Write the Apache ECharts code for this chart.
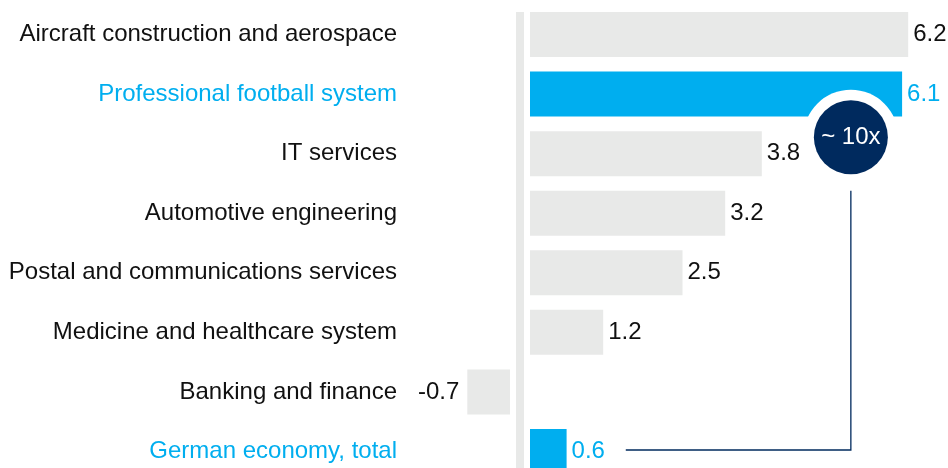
<!DOCTYPE html>
<html>
<head>
<meta charset="utf-8">
<style>
  html, body { margin: 0; padding: 0; background: #ffffff; }
  #chart { width: 948px; height: 468px; }
</style>
<script src="https://cdn.jsdelivr.net/npm/echarts@6/dist/echarts.min.js"></script>
</head>
<body>
<div id="chart"></div>
<script>
// Sectors, top to bottom
const categories = [
  'Aircraft construction and aerospace',
  'Professional football system',
  'IT services',
  'Automotive engineering',
  'Postal and communications services',
  'Medicine and healthcare system',
  'Banking and finance',
  'German economy, total'
];
// Values per sector
const values = [6.2, 6.1, 3.8, 3.2, 2.5, 1.2, -0.7, 0.6];
// Rows drawn in the accent colour
const highlighted = ['Professional football system', 'German economy, total'];
// Badge text comparing football with the whole economy
const ratioLabel = '~ 10x';

const GREY = '#e8e9e8';
const BLUE = '#00aeef';
const NAVY = '#002a5e';
const TEXT = '#111111';
const FONT = '"Liberation Sans", Arial, Helvetica, sans-serif';
const FONT_SIZE = 24;

const isHl = name => highlighted.indexOf(name) !== -1;

const barItem = (v, i) => {
  const hl = isHl(categories[i]);
  return {
    value: v,
    itemStyle: { color: hl ? BLUE : GREY },
    label: { color: hl ? BLUE : TEXT }
  };
};

const positiveData = values.map((v, i) => (v >= 0 ? barItem(v, i) : '-'));
const negativeData = values.map((v, i) => (v < 0 ? barItem(v, i) : '-'));

const labelBase = {
  show: true,
  fontFamily: FONT,
  fontSize: FONT_SIZE,
  formatter: p => Number(p.value).toFixed(1)
};

const chart = echarts.init(document.getElementById('chart'), null, { renderer: 'canvas' });

// Rows run past the lower edge of the canvas
const ROW_H = 59.57;
const PLOT_TOP = 4.7;
const PLOT_H = ROW_H * categories.length;

const option = {
  animation: false,
  backgroundColor: '#ffffff',
  grid: [
    // negative side
    { left: 449, width: 61, top: PLOT_TOP, height: PLOT_H, outerBoundsMode: 'none', containLabel: false },
    // positive side
    { left: 530, width: 396.5, top: PLOT_TOP, height: PLOT_H, outerBoundsMode: 'none', containLabel: false },
    // divider between both sides
    { left: 520, width: 4, top: 12, height: PLOT_H, outerBoundsMode: 'none', containLabel: false }
  ],
  xAxis: [
    { gridIndex: 0, type: 'value', min: -1, max: 0, show: false },
    { gridIndex: 1, type: 'value', min: 0, max: 6.5, show: false },
    { gridIndex: 2, type: 'value', min: 0, max: 1, show: false }
  ],
  yAxis: [
    {
      gridIndex: 0, type: 'category', data: categories, inverse: true,
      axisLine: { show: false }, axisTick: { show: false }, splitLine: { show: false },
      axisLabel: {
        margin: 52,
        fontFamily: FONT,
        fontSize: FONT_SIZE,
        color: v => (isHl(v) ? BLUE : TEXT)
      }
    },
    {
      gridIndex: 1, type: 'category', data: categories, inverse: true,
      axisLine: { show: false }, axisTick: { show: false },
      axisLabel: { show: false }, splitLine: { show: false }
    },
    {
      gridIndex: 2, type: 'category', data: categories, inverse: true,
      axisLine: { show: true, lineStyle: { color: GREY, width: 8, cap: 'butt' } },
      axisTick: { show: false }, axisLabel: { show: false }, splitLine: { show: false }
    }
  ],
  series: [
    {
      type: 'bar', xAxisIndex: 0, yAxisIndex: 0,
      barWidth: 45,
      data: negativeData,
      label: Object.assign({}, labelBase, { position: 'left', distance: 8 })
    },
    {
      type: 'bar', xAxisIndex: 1, yAxisIndex: 1,
      barWidth: 45,
      data: positiveData,
      label: Object.assign({}, labelBase, { position: 'right', distance: 5 })
    }
  ]
};

chart.setOption(option);

// Badge and connector, placed in the positive grid's data space
const badgeX = 5.26;          // value position of the badge centre
const badgeRow = 1.725;       // between the football and IT rows
const connectorStart = 1.57;  // where the connector begins on the total row
const totalRow = categories.length - 1;

const px = (x, row) => chart.convertToPixel({ gridIndex: 1 }, [x, categories[row]]);
const rowA = px(badgeX, Math.floor(badgeRow));
const rowB = px(badgeX, Math.ceil(badgeRow));
const cx = rowA[0];
const cy = rowA[1] + (badgeRow - Math.floor(badgeRow)) * (rowB[1] - rowA[1]);
const totalPt = px(connectorStart, totalRow);
const lineY = totalPt[1] - 1.5;

const r = 37;
const ring = 10.5;

chart.setOption({
  graphic: [
    {
      type: 'polyline',
      shape: { points: [[cx, cy + r + ring + 6], [cx, lineY], [totalPt[0], lineY]] },
      style: { stroke: NAVY, lineWidth: 1.3, fill: null },
      z: 10
    },
    {
      type: 'circle',
      shape: { cx: cx, cy: cy, r: r + ring },
      style: { fill: '#ffffff' },
      z: 11
    },
    {
      type: 'circle',
      shape: { cx: cx, cy: cy, r: r },
      style: { fill: NAVY },
      z: 12
    },
    {
      type: 'text',
      x: cx, y: cy,
      style: {
        text: ratioLabel,
        fill: '#ffffff',
        font: '24px ' + FONT,
        align: 'center',
        verticalAlign: 'middle'
      },
      z: 13
    }
  ]
});
</script>
</body>
</html>
